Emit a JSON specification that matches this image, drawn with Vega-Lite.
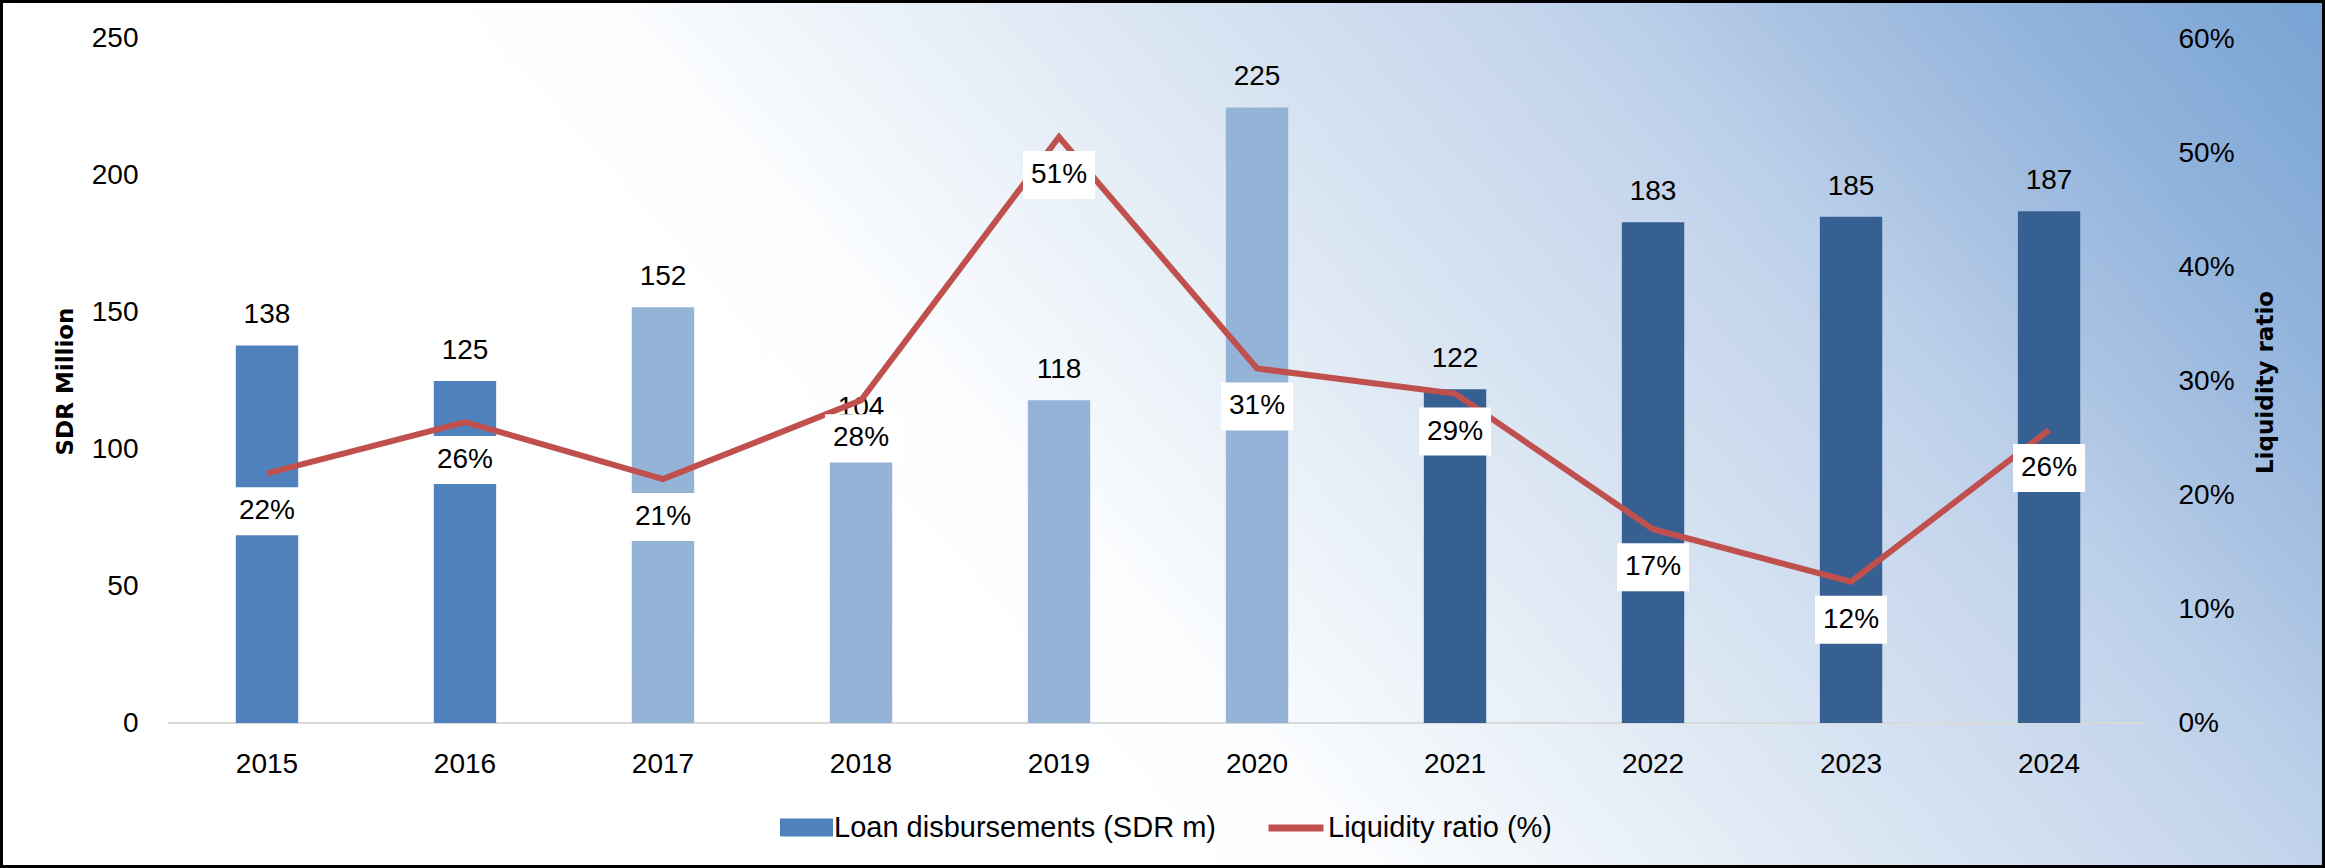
{
  "$schema": "https://vega.github.io/schema/vega-lite/v6.json",
  "width": 2325,
  "height": 868,
  "autosize": {"type": "none"},
  "padding": 0,
  "background": "#ffffff",
  "config": {
    "font": "Liberation Sans",
    "view": {
      "fill": {"gradient": "linear", "x1": 0, "y1": 0.33, "x2": 1, "y2": 0,
        "stops": [
          {"offset": 0, "color": "#ffffff"},
          {"offset": 0.32, "color": "#fdfeff"},
          {"offset": 0.525, "color": "#dce7f3"},
          {"offset": 0.68, "color": "#c5d5ec"},
          {"offset": 0.72, "color": "#bcd0ea"},
          {"offset": 0.79, "color": "#a9c2e2"},
          {"offset": 0.874, "color": "#92b4dc"},
          {"offset": 1, "color": "#78a3d3"}
        ]},
      "stroke": "#000000",
      "strokeWidth": 6
    },
    "axis": {
      "grid": false, "ticks": false, "domain": false,
      "labelFont": "Liberation Sans", "labelFontSize": 28, "labelColor": "#000000",
      "titleFont": "DejaVu Sans", "titleFontWeight": "bold", "titleFontSize": 23, "titleColor": "#000000"
    },
    "legend": {
      "labelFont": "Liberation Sans", "labelFontSize": 29, "labelColor": "#000000", "padding": 0, "labelOffset": 1, "labelLimit": 0
    }
  },
  "data": {
    "values": [
      {"year": 2015, "loans": 138, "ratio": 0.219},
      {"year": 2016, "loans": 125, "ratio": 0.264},
      {"year": 2017, "loans": 152, "ratio": 0.214},
      {"year": 2018, "loans": 104, "ratio": 0.283},
      {"year": 2019, "loans": 118, "ratio": 0.514},
      {"year": 2020, "loans": 225, "ratio": 0.311},
      {"year": 2021, "loans": 122, "ratio": 0.289},
      {"year": 2022, "loans": 183, "ratio": 0.17},
      {"year": 2023, "loans": 185, "ratio": 0.124},
      {"year": 2024, "loans": 187, "ratio": 0.257}
    ]
  },
  "encoding": {
    "x": {
      "field": "year", "type": "ordinal",
      "scale": {"paddingInner": 0, "paddingOuter": 0.871, "align": 0.487},
      "axis": {"orient": "bottom", "offset": -145, "labelAngle": 0, "labelPadding": 27, "title": null}
    }
  },
  "layer": [
    {
      "encoding": {
        "y": {
          "field": "loans", "type": "quantitative",
          "scale": {"domain": [-52.997, 264.254], "nice": false, "zero": false},
          "axis": {
            "orient": "left", "offset": -168, "values": [0, 50, 100, 150, 200, 250],
            "labelPadding": 30, "title": "SDR Million", "titleAngle": 270,
            "titleX": -103, "titleY": 381, "titleAlign": "center", "titleBaseline": "middle"
          }
        }
      },
      "layer": [
        {
          "mark": {"type": "tick", "orient": "horizontal", "size": 198, "thickness": 2, "color": "#d9d9d9", "opacity": 1},
          "encoding": {"y": {"datum": 0}}
        },
        {
          "mark": {"type": "bar", "width": {"band": 0.315}},
          "encoding": {
            "y2": {"datum": 0},
            "fill": {
              "datum": "Loan disbursements (SDR m)",
              "scale": {"range": ["#4f81bd"]},
              "condition": [
                {"test": "datum.year >= 2017 && datum.year <= 2020", "value": "#95b3d7"},
                {"test": "datum.year >= 2021", "value": "#366092"}
              ],
              "legend": {
                "orient": "none", "legendX": 780, "legendY": 801, "title": null,
                "symbolType": "M-1,-0.34L1,-0.34L1,0.34L-1,0.34Z", "symbolSize": 2809,
                "symbolStrokeWidth": 0, "symbolOpacity": 1
              }
            }
          }
        },
        {
          "mark": {"type": "text", "dy": -30, "fontSize": 28, "baseline": "middle", "color": "#000000"},
          "encoding": {"text": {"field": "loans", "type": "quantitative", "format": "d"}}
        }
      ]
    },
    {
      "encoding": {
        "y": {
          "field": "ratio", "type": "quantitative",
          "scale": {"domain": [-0.127193, 0.634211], "nice": false, "zero": false},
          "axis": {
            "orient": "right", "offset": -177, "values": [0, 0.1, 0.2, 0.3, 0.4, 0.5, 0.6],
            "format": ".0%", "labelPadding": 30, "title": "Liquidity ratio", "titleAngle": 270,
            "titleX": 117, "titleY": 382, "titleAlign": "center", "titleBaseline": "middle"
          }
        }
      },
      "layer": [
        {
          "mark": {"type": "line", "strokeWidth": 6, "strokeJoin": "miter"},
          "encoding": {
            "stroke": {
              "datum": "Liquidity ratio (%)",
              "scale": {"range": ["#c0504d"]},
              "legend": {
                "orient": "none", "legendX": 1265, "legendY": 797, "title": null,
                "symbolType": "stroke", "symbolSize": 3025, "symbolStrokeWidth": 7
              }
            }
          }
        },
        {
          "mark": {"type": "point", "shape": "M-1,-0.667L1,-0.667L1,0.667L-1,0.667Z", "size": 5184, "filled": true, "fill": "#ffffff", "opacity": 1, "strokeWidth": 0, "yOffset": 38}
        },
        {
          "mark": {"type": "text", "yOffset": 38, "fontSize": 28, "baseline": "middle", "color": "#000000"},
          "encoding": {"text": {"field": "ratio", "type": "quantitative", "format": ".0%"}}
        }
      ]
    }
  ],
  "resolve": {"scale": {"y": "independent", "fill": "independent", "stroke": "independent"}}
}
